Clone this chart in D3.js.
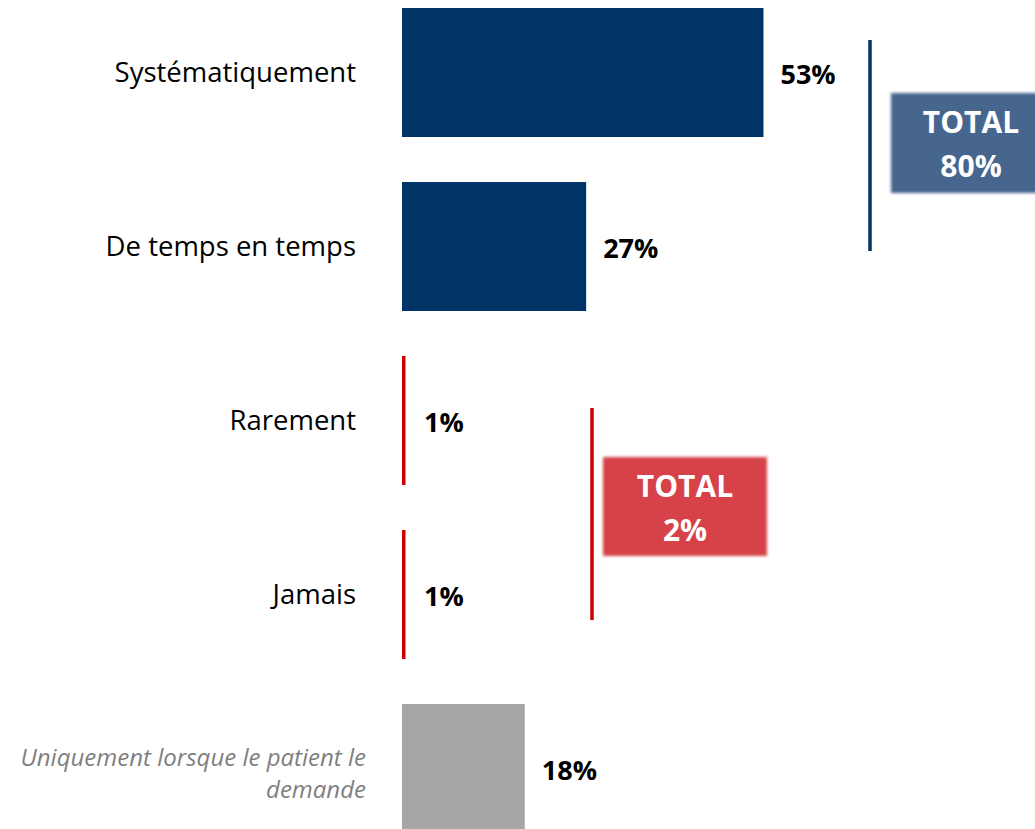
<!DOCTYPE html>
<html><head><meta charset="utf-8">
<script src="https://cdn.jsdelivr.net/npm/d3@7"></script>
<style>
html,body{margin:0;padding:0;background:#fff;}
svg{display:block;font-family:"Open Sans",Lato,sans-serif;}
</style></head>
<body><div id="chart"></div>
<script>
const categories = ["Systématiquement","De temps en temps","Rarement","Jamais","Uniquement lorsque le patient le demande"];
const values = [53, 27, 1, 1, 18];
const valueLabels = ["53%","27%","1%","1%","18%"];
const barColors = ["#003366","#003366","#cc0000","#cc0000","#a6a6a6"];
const totalGroups = [
  {label:"TOTAL", value:"80%", members:[0,1], line:"#003366", box:"#46668e"},
  {label:"TOTAL", value:"2%", members:[2,3], line:"#cc0000", box:"#d64246"}
];

const W = 1035, H = 829;
const svg = d3.select("#chart").append("svg").attr("width", W).attr("height", H);

const x = d3.scaleLinear().domain([0, 100]).range([402, 402 + 682]);
const y = d3.scaleBand().domain(categories).range([-14.5, 855.5]).paddingInner(45/174).paddingOuter(45/348);

const defs = svg.append("defs");
const f = defs.append("filter").attr("id","soft").attr("x","-10%").attr("y","-10%").attr("width","120%").attr("height","120%");
f.append("feGaussianBlur").attr("stdDeviation", 1.6);

// bars
svg.selectAll("rect.bar").data(categories).join("rect")
  .attr("class","bar")
  .attr("x", x(0))
  .attr("y", d => y(d))
  .attr("width", (d,i) => i===2||i===3 ? 3.5 : x(values[i]) - x(0))
  .attr("height", y.bandwidth())
  .attr("fill", (d,i) => barColors[i]);

// value labels
svg.selectAll("text.val").data(categories).join("text")
  .attr("class","val")
  .attr("x", (d,i) => (i===2||i===3 ? x(0)+5 : x(values[i])) + 17)
  .attr("y", d => y(d) + y.bandwidth()/2 + 2)
  .attr("dy","0.36em")
  .attr("font-size", 27).attr("font-weight", 700).attr("fill", "#000")
  .text((d,i) => valueLabels[i]);

// category labels
categories.forEach((c,i) => {
  const cy = y(c) + y.bandwidth()/2;
  if (i === 4) {
    const t = svg.append("text").attr("text-anchor","end").attr("font-size",24)
      .attr("font-style","italic").attr("fill","#7f7f7f");
    t.append("tspan").attr("x", 366).attr("y", cy - 11).attr("dy","0.36em").text("Uniquement lorsque le patient le");
    t.append("tspan").attr("x", 366).attr("y", cy + 21).attr("dy","0.36em").text("demande");
  } else {
    svg.append("text").attr("text-anchor","end").attr("x", 356).attr("y", cy)
      .attr("dy","0.36em").attr("font-size", 27.5).attr("fill","#000").text(c);
  }
});

// totals brackets & boxes
const gi = [
  {lx: 870, ly0: 40, ly1: 251, bx: 891, by: 93, bw: 150, bh: 100},
  {lx: 592, ly0: 408, ly1: 620, bx: 603, by: 457, bw: 164, bh: 99}
];
totalGroups.forEach((g,k) => {
  const p = gi[k];
  svg.append("line").attr("x1",p.lx).attr("x2",p.lx).attr("y1",p.ly0).attr("y2",p.ly1)
    .attr("stroke", g.line).attr("stroke-width", 3.5);
  svg.append("rect").attr("x",p.bx).attr("y",p.by).attr("width",p.bw).attr("height",p.bh)
    .attr("fill", g.box).attr("filter","url(#soft)");
  const cx = k===0 ? 971 : p.bx + p.bw/2;
  svg.append("text").attr("x",cx).attr("y",p.by+29).attr("dy","0.36em").attr("text-anchor","middle")
    .attr("font-size",30).attr("font-weight",700).attr("fill","#fff").text(g.label);
  svg.append("text").attr("x",cx).attr("y",p.by+73).attr("dy","0.36em").attr("text-anchor","middle")
    .attr("font-size",30).attr("font-weight",700).attr("fill","#fff").text(g.value);
});
</script></body></html>
